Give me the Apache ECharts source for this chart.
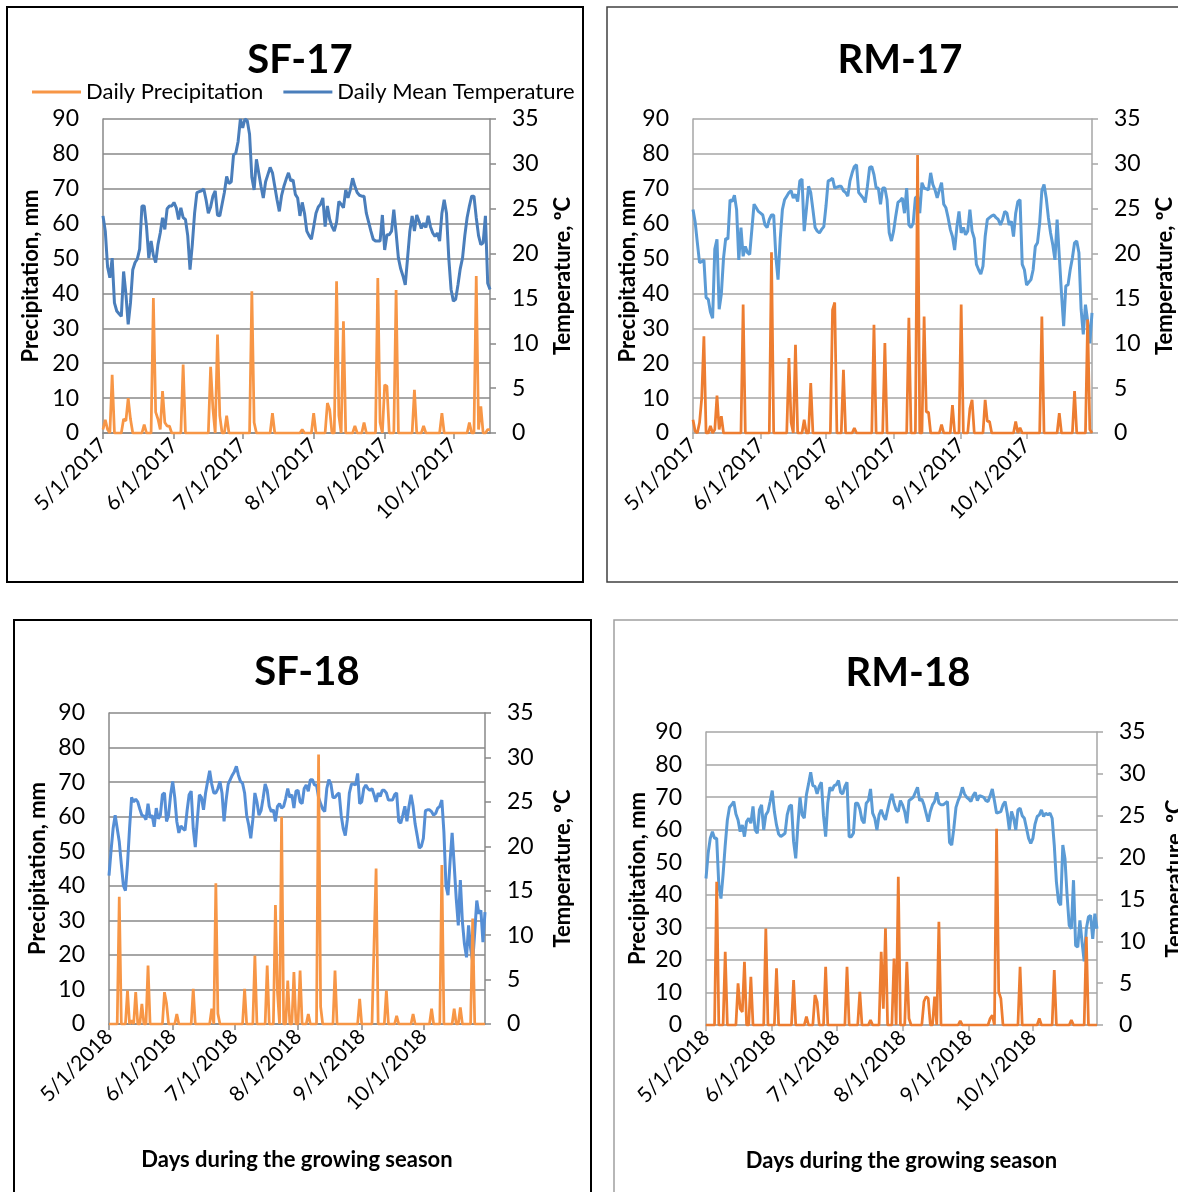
<!DOCTYPE html>
<html><head><meta charset="utf-8">
<script src="https://cdn.jsdelivr.net/npm/echarts@6/dist/echarts.min.js"></script>
<style>html,body{margin:0;padding:0;background:#fff}#c{width:1178px;height:1192px}</style>
</head><body><div id="c"></div><script>
// ---------- DATA (daily values) ----------
const sf17Temp = [
24.2,22.5,18.5,17.3,19.5,14.5,13.6,13.3,13.0,18.0,
15.5,12.1,14.5,18.2,19.0,19.4,20.5,25.3,25.3,23.0,
19.5,21.4,19.8,19.0,21.0,22.3,24.0,22.7,25.0,25.3,
25.3,25.7,25.1,23.8,25.1,24.0,23.8,22.0,18.2,21.0,
24.5,26.8,26.9,27.0,27.2,26.0,24.5,25.2,26.4,27.0,
24.3,24.2,25.5,26.8,28.6,27.8,28.0,31.0,31.2,32.5,
35.0,34.0,35.0,34.8,33.3,28.5,27.1,30.5,29.0,27.5,
26.2,28.0,28.8,29.6,29.0,27.5,26.0,24.7,26.5,27.5,
28.3,29.0,28.1,28.2,26.6,26.2,24.2,25.7,24.5,22.5,
22.0,21.6,23.0,24.5,25.2,25.5,26.2,23.0,25.3,23.8,
23.0,22.5,23.5,25.8,25.5,25.1,27.1,26.2,27.1,28.4,
27.5,26.8,26.5,26.4,26.4,24.5,23.5,22.5,21.6,21.4,
21.4,21.4,24.3,20.4,22.1,22.1,22.5,24.9,22.3,19.5,
18.3,17.5,16.5,19.5,22.5,24.2,22.5,24.3,23.6,22.8,
23.4,22.9,24.2,23.0,22.3,21.9,22.3,21.4,24.5,26.0,
24.5,19.5,16.0,14.7,14.9,16.5,18.3,19.5,22.0,24.0,
25.3,26.4,26.4,24.0,22.0,21.0,21.2,24.2,16.7,16.0];
const sf17Precip = [
1,3.8,1,0,16.7,0,0,0,0,4,
3.5,10,4,0,0,0,0,0,2.4,0,
0,0,38.7,6,4,1,12,3,2,2,
0,0,0,0,0,19.6,0,0,0,0,
0,0,0,0,0,0,0,19,7,0,
28.2,5,0,0,5,0,0,0,0,0,
0,0,0,0,0,40.6,3,0,0,0,
0,0,0,0,5.7,0,0,0,0,0,
0,0,0,0,0,0,0,1,0,0,
0,0,5.7,0,0,0,0,0,8.6,6.7,
0,0,43.5,5,0,32,0,0,0,0,
2,0,0,0,3,0,0,0,0,0,
44.4,3,0,13.8,13.4,0,0,0,41,0,
0,0,0,0,0,0,12.4,0,0,0,
2,0,0,0,0,0,0,0,5.7,0,
0,0,0,0,0,0,0,0,0,0,
3,0,0,45,1,7.6,0,0,1,1];

const rm17Temp = [
24.9,23.5,21.2,19.0,19.1,19.3,15.1,14.9,13.5,12.8,
20.5,21.6,13.8,15.5,19.5,21.7,21.6,26.0,25.8,26.5,
24.9,19.3,22.9,19.7,20.8,20.1,19.9,22.7,25.5,25.1,
24.7,24.5,24.3,23.2,22.9,23.8,24.3,24.3,19.7,17.1,
21.6,24.9,26.0,26.4,26.8,27.0,26.2,26.6,25.8,28.1,
28.3,22.5,24.9,27.5,26.8,24.9,22.9,22.5,22.3,22.7,
23.0,25.3,28.1,28.2,28.4,27.3,27.4,27.5,27.5,27.0,
26.8,26.4,28.1,29.0,29.7,29.9,26.8,26.5,26.2,25.7,
27.5,29.6,29.7,28.8,27.3,27.3,25.5,27.3,27.3,26.0,
22.3,21.4,22.5,24.2,25.7,25.9,26.2,24.5,27.3,23.2,
22.9,23.4,26.2,26.4,24.5,27.9,27.3,27.2,27.1,29.0,
27.7,27.1,26.2,27.1,27.9,25.5,25.1,24.0,22.7,21.9,
20.4,22.9,24.7,22.3,22.9,22.1,22.5,24.9,22.5,21.7,
18.8,18.2,17.7,18.6,21.9,23.8,24.0,24.2,24.3,24.0,
23.8,23.2,23.8,24.7,24.5,23.2,23.6,21.9,24.5,25.8,
26.0,18.8,18.2,16.5,16.8,17.1,18.2,20.8,21.2,23.4,
27.0,27.7,26.2,24.0,22.3,21.0,19.3,23.8,19.7,15.6,
11.9,16.4,16.5,18.2,19.5,21.2,21.4,20.1,13.8,11.0,
14.3,12.5,10.0,13.4];
const rm17Precip = [
3.8,0.5,0,3,10,27.7,0,0,2,0,
1,10.7,1,4.8,0,0,0,0,0,0,
0,0,0,36.8,0,0,0,0,0,0,
0,0,0,0,0,0,51.8,0,0,0,
0,0,0,0,21.5,3,0,25.3,0,0,
0,3.8,0,0,14.3,0,0,0,0,0,
0,0,0,0,35.3,37.4,0,0,0,18.1,
0,0,0,0,1.4,0,0,0,0,0,
0,0,0,31,0,0,0,0,25.8,0,
0,0,0,0,0,0,0,0,0,33,
0,0,0,79.7,0,0,33.4,6,6,0,
0,0,0,0,2.4,0,0,0,0,8,
0,0,0,36.8,0,0,0,7,9.5,0,
0,0,0,0,9.5,3.3,3.3,0,0,0,
0,0,0,0,0,0,0,0,3.3,0,
1.5,0,0,0,0,0,0,0,0,0,
33.4,0,0,0,0,0,0,0,5.7,0,
0,0,0,0,0,12,0,0,0,0,
0,32.5,1,0];

const sf18Temp = [
16.7,19.5,22.0,23.5,22.0,20.5,18.0,15.6,15.0,18.0,
22.0,25.5,25.0,25.3,25.0,24.2,23.5,23.4,23.0,24.8,
23.2,23.5,22.2,24.3,23.1,23.5,25.8,26.0,22.8,23.5,
25.8,27.3,25.5,22.8,21.5,22.3,22.0,21.8,24.0,25.8,
26.2,22.0,19.9,23.0,25.8,25.5,24.1,26.0,27.3,28.5,
27.0,26.0,26.0,26.5,27.3,26.0,22.8,25.2,27.0,27.5,
28.0,28.4,29.0,28.0,27.3,27.1,26.0,23.5,22.4,20.9,
23.0,26.0,25.0,23.5,24.0,25.4,27.0,26.3,24.5,23.9,
24.1,22.8,24.5,24.8,24.3,24.5,25.4,26.5,25.5,25.8,
24.3,26.2,26.3,25.0,24.8,26.5,26.9,26.2,27.5,27.5,
26.9,26.9,25.5,24.8,24.2,23.9,26.5,27.5,27.0,25.5,
25.5,25.8,26.0,23.5,22.0,21.2,23.0,26.0,27.0,27.0,
26.9,28.2,24.8,25.0,26.5,26.9,26.5,26.3,26.5,25.8,
25.0,26.0,25.6,26.3,26.3,26.0,25.2,25.2,25.2,25.8,
26.0,22.8,22.6,23.5,24.5,22.8,24.5,25.8,24.5,22.5,
21.2,19.8,20.0,20.9,24.0,24.1,24.1,23.9,23.5,23.7,
24.3,24.5,25.2,21.6,15.6,14.5,18.3,21.5,17.9,14.1,
11.1,16.2,11.5,9.0,7.5,11.1,8.5,7.0,10.3,13.9,
12.4,12.8,9.2,12.6];
const sf18Precip = [
0,0,0,0,0,36.8,0,0,0,9.7,
0,1,0,9.2,0,0,5.8,0,0,16.9,
0,0,0,0,0,0,0,9.2,6,0,
0,0,0,2.9,0,0,0,0,0,0,
0,10.2,0,0,0,0,0,0,0,0,
4.4,0,40.7,3,0,0,0,0,0,0,
0,0,0,0,0,0,10.2,0,0,0,
0,19.8,0,0,0,0,0,16.9,0,0,
0,34.4,9.2,0,60,0,0,12.6,0,0,
15,0,0,15.5,0,0,0,2.9,0,0,
0,0,78,5,0,0,0,0,0,0,
15.5,0,0,0,0,0,0,0,0,0,
0,0,7.3,0,0,0,0,0,0,23.2,
45,0,0,0,0,9.7,0,0,0,0,
2.4,0,0,0,0,0,0,0,2.9,0,
0,0,0,0,0,0,0,4.4,0,0,
0,0,46,0,0,0,0,0,4.4,0,
0,4.8,0,0,0,0,0,30.5,0,0,
0,0,0,0];

const rm18Temp = [
17.5,20.5,22.3,23.1,22.3,22.3,16.7,15.1,18.0,21.5,
24.5,26.0,26.3,26.7,25.2,24.5,23.1,23.9,22.5,24.3,
24.7,24.1,26.1,23.3,22.9,25.7,26.3,23.3,25.1,25.5,
26.7,28.0,25.5,23.9,22.8,22.5,22.7,22.9,25.1,26.1,
26.3,21.9,19.9,23.9,27.2,25.1,24.7,27.5,28.8,30.2,
28.6,28.5,27.6,28.5,29.0,25.0,22.5,26.5,28.4,28.0,
28.6,28.7,29.2,27.8,27.6,28.5,29.0,22.5,22.5,22.9,
26.5,26.5,25.8,24.5,24.1,26.5,26.8,28.2,25.3,24.7,
23.3,25.1,25.7,25.0,24.5,25.7,26.8,27.6,26.5,25.7,
25.5,26.8,26.3,25.5,24.1,26.8,27.0,27.2,27.8,28.4,
26.8,27.0,26.3,25.3,24.3,25.5,26.3,26.7,27.8,26.5,
26.3,26.3,26.5,26.7,21.8,21.5,23.5,26.0,26.8,27.4,
28.4,27.6,27.2,27.0,26.7,27.4,27.8,26.8,27.4,27.3,
27.2,26.8,26.7,27.4,28.2,26.8,25.3,25.4,25.5,26.3,
26.7,25.3,23.3,25.5,24.7,23.3,25.7,25.9,25.0,24.7,
23.5,22.3,21.7,22.3,24.0,24.9,25.1,25.7,24.9,25.3,
25.1,25.3,24.7,21.5,17.1,14.7,14.3,21.5,19.9,15.5,
11.9,11.5,17.3,9.5,9.3,12.5,9.9,7.6,11.5,12.9,
13.1,10.3,13.3,11.5];
const rm18Precip = [
0,0,0,0,0,44,0,0,0,22.5,
0,0,0,0,0,12.8,5,4,19.4,0,
0,14.8,0,0,0,0,0,0,29.6,0,
0,0,0,17.4,0,0,0,0,0,0,
0,13.8,0,0,0,0,0,2.6,0,0,
0,9.2,7.2,0,0,0,17.9,0,0,0,
0,0,0,0,0,0,17.9,0,0,0,
0,0,10.2,0,0,0,0,1.5,0,0,
0,0,22.5,5,29.7,0,0,0,20.4,0,
45.5,0,0,0,19.4,2,0,0,0,0,
0,0,7.2,8.7,8.2,0,0,8.7,0,31.7,
0,0,0,0,0,0,0,0,0,1.3,
0,0,0,0,0,0,0,0,0,0,
0,0,0,2,3,0,60.3,10.2,8.2,0,
0,0,0,0,0,0,0,17.9,0,0,
0,0,0,0,0,0,2,0,0,0,
0,0,0,16.9,0,0,0,0,0,0,
0,1.5,0,0,0,0,0,0,27.1,0,
0,0,0,0];

const monthTicks2017 = ['5/1/2017','6/1/2017','7/1/2017','8/1/2017','9/1/2017','10/1/2017'];
const monthTicks2018 = ['5/1/2018','6/1/2018','7/1/2018','8/1/2018','9/1/2018','10/1/2018'];
const precipAxis = {min: 0, max: 90, interval: 10};
const tempAxis = {min: 0, max: 35, interval: 5};
const panelTitles = ['SF-17', 'RM-17', 'SF-18', 'RM-18'];
const seriesNames = ['Daily Precipitation', 'Daily Mean Temperature'];
const xAxisTitle = 'Days during the growing season';
const leftAxisTitle = 'Precipitation, mm';
const rightAxisTitle = 'Temperature, ºC';

// ---------- CHART ----------
function dayCategories(year, n) {
  const out = [];
  for (let i = 0; i < n; i++) {
    const d = new Date(Date.UTC(year, 4, 1 + i));
    out.push((d.getUTCMonth() + 1) + '/' + d.getUTCDate() + '/' + d.getUTCFullYear());
  }
  return out;
}

const FONT = 'Lato';
const panels = [
  {title: panelTitles[0], temp: sf17Temp, precip: sf17Precip, year: 2017, ticks: monthTicks2017,
   grid: {left: 103, top: 119, width: 387, height: 314}, tpos: [295, 55],
   blue: '#4A7EBB', orange: '#F79646', gridColor: '#888888', xName: false, lGap: 61, rGap: 62},
  {title: panelTitles[1], temp: rm17Temp, precip: rm17Precip, year: 2017, ticks: monthTicks2017,
   grid: {left: 693, top: 119, width: 399, height: 314}, tpos: [895, 55],
   blue: '#5B9BD5', orange: '#ED7D31', gridColor: '#a6a6a6', xName: false, lGap: 51, rGap: 62},
  {title: panelTitles[2], temp: sf18Temp, precip: sf18Precip, year: 2018, ticks: monthTicks2018,
   grid: {left: 109, top: 713, width: 376, height: 311}, tpos: [302, 667],
   blue: '#558ED5', orange: '#F79646', gridColor: '#888888', xName: true, lGap: 60, rGap: 67},
  {title: panelTitles[3], temp: rm18Temp, precip: rm18Precip, year: 2018, ticks: monthTicks2018,
   grid: {left: 706, top: 732, width: 391, height: 293}, tpos: [903, 668],
   blue: '#5B9BD5', orange: '#ED7D31', gridColor: '#a6a6a6', xName: true, lGap: 57, rGap: 67}
];

const option = {
  animation: false,
  backgroundColor: '#fff',
  textStyle: {fontFamily: FONT},
  title: [], grid: [], xAxis: [], yAxis: [], series: [],
  legend: {
    left: 27, top: 76, itemWidth: 49, itemHeight: 3, itemGap: 20, icon: 'rect',
    textStyle: {fontFamily: FONT, fontSize: 22, color: '#000'}, selectedMode: false
  },
  graphic: [
    {type: 'rect', shape: {x: 7, y: 7, width: 576, height: 575}, style: {fill: 'none', stroke: '#000', lineWidth: 2}},
    {type: 'rect', shape: {x: 607, y: 7, width: 600, height: 575}, style: {fill: 'none', stroke: '#404040', lineWidth: 1.5}},
    {type: 'rect', shape: {x: 14, y: 620, width: 577, height: 600}, style: {fill: 'none', stroke: '#000', lineWidth: 2}},
    {type: 'rect', shape: {x: 614, y: 620, width: 600, height: 600}, style: {fill: 'none', stroke: '#a0a0a0', lineWidth: 1.5}}
  ]
};

panels.forEach((p, i) => {
  const cats = dayCategories(p.year, p.temp.length);
  const isTick = (idx, val) => p.ticks.indexOf(cats[idx]) >= 0;
  option.title.push({
    text: p.title, left: p.tpos[0], top: p.tpos[1], textAlign: 'center', textVerticalAlign: 'middle',
    textStyle: {fontFamily: FONT, fontWeight: 'bold', fontSize: 40, color: '#000'}
  });
  option.grid.push(Object.assign({containLabel: false, outerBoundsMode: 'none'}, p.grid));
  const axisLineStyle = {color: p.gridColor, width: 1.5};
  option.xAxis.push({
    type: 'category', gridIndex: i, data: cats, boundaryGap: false,
    axisLine: {lineStyle: axisLineStyle},
    axisTick: {interval: isTick, length: 6, lineStyle: axisLineStyle},
    axisLabel: {interval: isTick, rotate: 45, fontSize: 21, color: '#000', margin: 9, fontFamily: FONT},
    splitLine: {show: false},
    name: p.xName ? xAxisTitle : '', nameLocation: 'middle', nameGap: 125,
    nameTextStyle: {fontFamily: FONT, fontWeight: 'bold', fontSize: 22, color: '#000'}
  });
  option.yAxis.push({
    type: 'value', gridIndex: i, position: 'left',
    min: precipAxis.min, max: precipAxis.max, interval: precipAxis.interval,
    axisLine: {show: true, lineStyle: axisLineStyle},
    axisTick: {show: false},
    axisLabel: {fontSize: 23, color: '#000', margin: 24, fontFamily: FONT},
    splitLine: {show: true, lineStyle: {color: p.gridColor, width: 1.5}},
    name: leftAxisTitle, nameLocation: 'middle', nameRotate: 90, nameGap: p.lGap,
    nameTextStyle: {fontFamily: FONT, fontWeight: 'bold', fontSize: 22, color: '#000'}
  });
  option.yAxis.push({
    type: 'value', gridIndex: i, position: 'right',
    min: tempAxis.min, max: tempAxis.max, interval: tempAxis.interval,
    axisLine: {show: true, lineStyle: axisLineStyle},
    axisTick: {show: true, length: 6, lineStyle: axisLineStyle},
    axisLabel: {fontSize: 23, color: '#000', margin: 22, fontFamily: FONT},
    splitLine: {show: false},
    name: rightAxisTitle, nameLocation: 'middle', nameRotate: 90, nameGap: p.rGap,
    nameTextStyle: {fontFamily: FONT, fontWeight: 'bold', fontSize: 22, color: '#000'}
  });
  option.series.push({
    name: seriesNames[1], type: 'line', xAxisIndex: i, yAxisIndex: 2 * i + 1,
    data: p.temp, symbol: 'none', smooth: false, z: 2,
    lineStyle: {color: p.blue, width: 3}, itemStyle: {color: p.blue}
  });
  option.series.push({
    name: seriesNames[0], type: 'line', xAxisIndex: i, yAxisIndex: 2 * i,
    data: p.precip, symbol: 'none', smooth: false, z: 3,
    lineStyle: {color: p.orange, width: 2.75}, itemStyle: {color: p.orange}
  });
});

// legend colours follow panel 1
option.legend.data = [
  {name: seriesNames[0], itemStyle: {color: panels[0].orange}},
  {name: seriesNames[1], itemStyle: {color: panels[0].blue}}
];

const chart = echarts.init(document.getElementById('c'), null, {renderer: 'canvas'});
chart.setOption(option);
</script></body></html>
